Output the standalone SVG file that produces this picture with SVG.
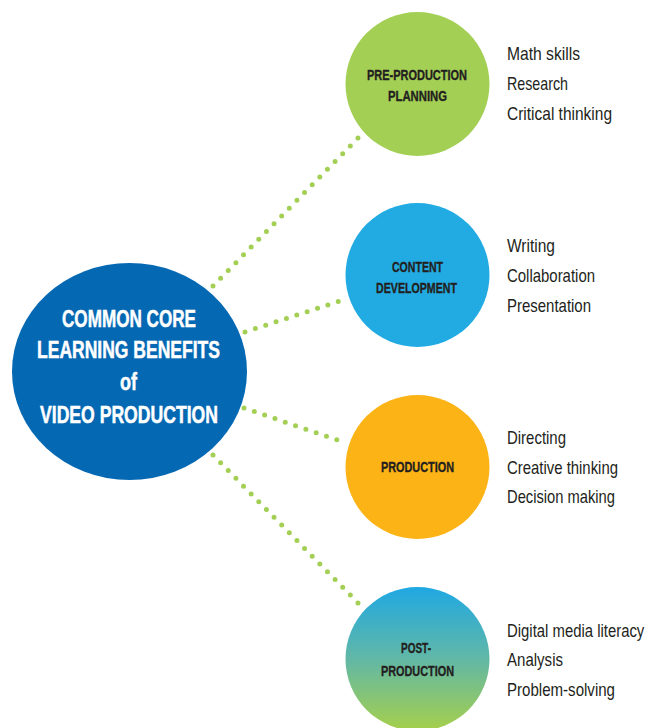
<svg xmlns="http://www.w3.org/2000/svg" width="663" height="728" viewBox="0 0 663 728">
  <defs>
    <linearGradient id="postGrad" x1="0" y1="0" x2="0" y2="1">
      <stop offset="0" stop-color="#1fa8e3"/>
      <stop offset="0.5" stop-color="#62b8a6"/>
      <stop offset="1" stop-color="#a6d04b"/>
    </linearGradient>
  </defs>
  <style>
    .dots { fill: none; stroke: #a3cf55; stroke-width: 5; stroke-linecap: round; stroke-dasharray: 0 10.9; }
    .main { font-family: "Liberation Sans", Arial, sans-serif; font-weight: bold; font-size: 23.5px; fill: #ffffff; stroke: #ffffff; stroke-width: 0.5; text-anchor: middle; }
    .lbl { font-family: "Liberation Sans", Arial, sans-serif; font-weight: bold; font-size: 14.5px; fill: #231f20; stroke: #231f20; stroke-width: 0.35; text-anchor: middle; }
    .item { font-family: "Liberation Sans", Arial, sans-serif; font-size: 18.5px; fill: #231f20; }
  </style>
  <rect width="663" height="728" fill="#ffffff"/>

  <g id="connectors">
    <path class="dots" d="M213 286 L361 135"/>
    <path class="dots" d="M245 332 L346 299"/>
    <path class="dots" d="M244 408 L346 443"/>
    <path class="dots" d="M213 455 L362 607"/>
  </g>

  <g id="main">
    <ellipse cx="129.5" cy="371.5" rx="117.5" ry="108.5" fill="#0568b3"/>
    <text class="main" x="129" y="327" textLength="134" lengthAdjust="spacingAndGlyphs">COMMON CORE</text>
    <text class="main" x="128.5" y="358" textLength="183" lengthAdjust="spacingAndGlyphs">LEARNING BENEFITS</text>
    <text class="main" x="128.5" y="390" textLength="17" lengthAdjust="spacingAndGlyphs">of</text>
    <text class="main" x="129" y="423" textLength="178" lengthAdjust="spacingAndGlyphs">VIDEO PRODUCTION</text>
  </g>

  <g id="pre-production">
    <circle cx="417.5" cy="84" r="72" fill="#a3cf55"/>
    <text class="lbl" x="417" y="80" textLength="100" lengthAdjust="spacingAndGlyphs">PRE-PRODUCTION</text>
    <text class="lbl" x="417.5" y="101" textLength="59" lengthAdjust="spacingAndGlyphs">PLANNING</text>
    <text class="item" x="507" y="60" textLength="73" lengthAdjust="spacingAndGlyphs">Math skills</text>
    <text class="item" x="507" y="90" textLength="61" lengthAdjust="spacingAndGlyphs">Research</text>
    <text class="item" x="507" y="120" textLength="105" lengthAdjust="spacingAndGlyphs">Critical thinking</text>
  </g>

  <g id="content-development">
    <circle cx="417.5" cy="275" r="72" fill="#22abe2"/>
    <text class="lbl" x="417.5" y="272" textLength="51" lengthAdjust="spacingAndGlyphs">CONTENT</text>
    <text class="lbl" x="416.5" y="293" textLength="81" lengthAdjust="spacingAndGlyphs">DEVELOPMENT</text>
    <text class="item" x="507" y="252" textLength="48" lengthAdjust="spacingAndGlyphs">Writing</text>
    <text class="item" x="507" y="282" textLength="88" lengthAdjust="spacingAndGlyphs">Collaboration</text>
    <text class="item" x="507" y="312" textLength="84" lengthAdjust="spacingAndGlyphs">Presentation</text>
  </g>

  <g id="production">
    <circle cx="417.5" cy="467" r="72" fill="#fbb316"/>
    <text class="lbl" x="417.5" y="472" textLength="73" lengthAdjust="spacingAndGlyphs">PRODUCTION</text>
    <text class="item" x="507" y="444" textLength="59" lengthAdjust="spacingAndGlyphs">Directing</text>
    <text class="item" x="507" y="474" textLength="111" lengthAdjust="spacingAndGlyphs">Creative thinking</text>
    <text class="item" x="507" y="503" textLength="108" lengthAdjust="spacingAndGlyphs">Decision making</text>
  </g>

  <g id="post-production">
    <circle cx="417.5" cy="659" r="72" fill="url(#postGrad)"/>
    <text class="lbl" x="416" y="653" textLength="30" lengthAdjust="spacingAndGlyphs">POST-</text>
    <text class="lbl" x="417.5" y="676" textLength="73" lengthAdjust="spacingAndGlyphs">PRODUCTION</text>
    <text class="item" x="0" y="0" transform="translate(507 637) scale(0.805 1)">Digital media literacy</text>
    <text class="item" x="507" y="666" textLength="56" lengthAdjust="spacingAndGlyphs">Analysis</text>
    <text class="item" x="507" y="696" textLength="108" lengthAdjust="spacingAndGlyphs">Problem-solving</text>
  </g>
</svg>
